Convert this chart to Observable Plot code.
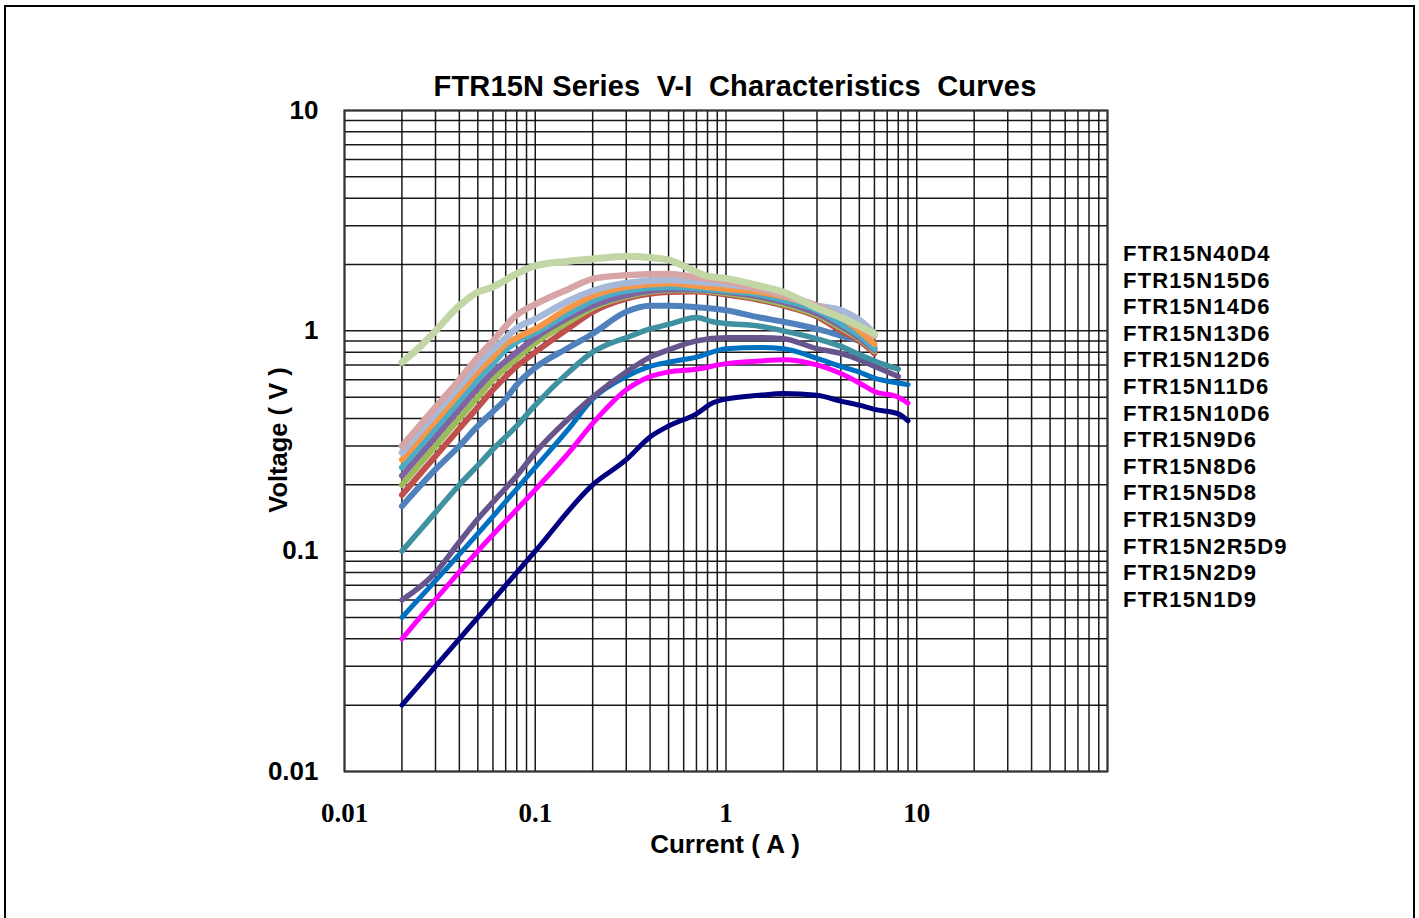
<!DOCTYPE html>
<html>
<head>
<meta charset="utf-8">
<script src="https://cdn.jsdelivr.net/npm/d3@7"></script>
<script src="https://cdn.jsdelivr.net/npm/@observablehq/plot@0.6"></script>
<style>
  html, body { margin: 0; padding: 0; background: #fff; overflow: hidden; }
  #wrap { position: relative; width: 1419px; height: 918px; overflow: hidden; }
  #border { position: absolute; left: 4px; top: 5px; width: 1411px; height: 940px; box-sizing: border-box; border: 2px solid #000; }
  .lbl { position: absolute; font-family: "Liberation Sans", Arial, sans-serif; font-weight: bold; color: #000; white-space: pre; line-height: 1; }
  #chart { position: absolute; left: 0; top: 0; }
</style>
</head>
<body>
<div id="wrap">
  <div id="border"></div>
  <div id="chart"></div>
  <div id="title" class="lbl" style="font-size:29px; letter-spacing:0.15px; left:0; width:1470px; text-align:center; top:72px;">FTR15N Series  V-I  Characteristics  Curves</div>
  <div id="xtitle" class="lbl" style="font-size:26px; left:0; width:1450px; text-align:center; top:831px;">Current ( A )</div>
  <div id="ytitle" class="lbl" style="font-size:25.5px; left:279px; top:440px; transform: translate(-50%,-50%) rotate(-90deg);">Voltage ( V )</div>
  <div id="legend"></div>
</div>
<script>
// ---- data ----
const seriesNames = ["FTR15N40D4","FTR15N15D6","FTR15N14D6","FTR15N13D6","FTR15N12D6","FTR15N11D6","FTR15N10D6","FTR15N9D6","FTR15N8D6","FTR15N5D8","FTR15N3D9","FTR15N2R5D9","FTR15N2D9","FTR15N1D9"];
const seriesColors = ["#c3d6a5","#d7a5a5","#a7b9d8","#f79646","#4bacc6","#8064a2","#9bbb59","#c0504d","#4f81bd","#3f91a1","#66558c","#0070c0","#ff00ff","#000080"];
const seriesWidths = [7,6.5,6.5,6,6,6,6,6,6,5.5,5.5,5,5,5];

const s40D4 = [[0.02,0.72],[0.025,0.85],[0.03,1.0],[0.04,1.3],[0.05,1.5],[0.06,1.58],[0.07,1.7],[0.08,1.82],[0.1,1.97],[0.15,2.07],[0.2,2.12],[0.3,2.18],[0.4,2.15],[0.5,2.1],[0.6,1.97],[0.7,1.85],[0.8,1.77],[1,1.73],[1.5,1.6],[2,1.5],[3,1.27],[4,1.15],[5,1.05],[6,0.97]];
const s15D6 = [[0.02,0.3],[0.03,0.45],[0.04,0.6],[0.05,0.76],[0.06,0.9],[0.08,1.18],[0.1,1.32],[0.15,1.55],[0.2,1.72],[0.3,1.79],[0.5,1.81],[0.7,1.75],[1,1.68],[1.5,1.55],[2,1.45],[3,1.3],[4,1.15],[5,1.05],[6,0.95]];
const s14D6 = [[0.02,0.28],[0.03,0.42],[0.04,0.56],[0.05,0.7],[0.06,0.82],[0.07,0.93],[0.08,1.03],[0.1,1.13],[0.15,1.37],[0.2,1.52],[0.3,1.65],[0.5,1.7],[0.7,1.67],[1,1.63],[1.5,1.55],[2,1.45],[3,1.3],[4,1.24],[5,1.12],[6,0.97]];
const s13D6 = [[0.02,0.26],[0.03,0.39],[0.04,0.52],[0.05,0.65],[0.06,0.76],[0.07,0.87],[0.08,0.93],[0.1,1.02],[0.15,1.27],[0.2,1.44],[0.3,1.58],[0.5,1.64],[0.7,1.6],[1,1.55],[1.5,1.5],[2,1.43],[3,1.28],[4,1.15],[5,1.0],[6,0.87]];
const s12D6 = [[0.02,0.24],[0.03,0.36],[0.04,0.48],[0.05,0.6],[0.06,0.71],[0.07,0.82],[0.08,0.89],[0.1,0.98],[0.15,1.2],[0.2,1.37],[0.3,1.52],[0.5,1.58],[0.7,1.56],[1,1.52],[1.5,1.46],[2,1.38],[3,1.24],[4,1.08],[5,0.95],[6,0.83]];
const s11D6 = [[0.02,0.22],[0.03,0.33],[0.04,0.44],[0.05,0.55],[0.06,0.65],[0.07,0.73],[0.08,0.8],[0.1,0.93],[0.15,1.15],[0.2,1.3],[0.3,1.45],[0.5,1.54],[0.7,1.54],[1,1.5],[1.5,1.43],[2,1.35],[3,1.2],[4,1.05],[5,0.93],[6,0.82]];
const s10D6 = [[0.02,0.2],[0.03,0.3],[0.04,0.4],[0.05,0.5],[0.06,0.6],[0.07,0.68],[0.08,0.75],[0.1,0.88],[0.15,1.1],[0.2,1.27],[0.3,1.43],[0.5,1.53],[0.7,1.53],[1,1.48],[1.5,1.4],[2,1.32],[3,1.18],[4,1.03],[5,0.92],[6,0.81]];
const s9D6 = [[0.02,0.18],[0.03,0.27],[0.04,0.36],[0.05,0.45],[0.06,0.54],[0.07,0.62],[0.08,0.69],[0.1,0.8],[0.15,1.03],[0.2,1.22],[0.3,1.4],[0.5,1.5],[0.7,1.51],[1,1.46],[1.5,1.38],[2,1.3],[3,1.16],[4,1.0],[5,0.9],[6,0.79]];
const s8D6 = [[0.02,0.16],[0.03,0.235],[0.04,0.3],[0.05,0.37],[0.06,0.43],[0.07,0.49],[0.08,0.57],[0.1,0.68],[0.15,0.84],[0.2,0.97],[0.3,1.22],[0.4,1.3],[0.5,1.3],[0.7,1.28],[1,1.24],[1.5,1.15],[2,1.1],[3,1.02],[4,0.95],[5,0.9],[6,0.84]];
const s5D8 = [[0.02,0.1],[0.03,0.15],[0.04,0.2],[0.05,0.245],[0.06,0.29],[0.08,0.37],[0.1,0.46],[0.15,0.65],[0.2,0.8],[0.25,0.88],[0.3,0.93],[0.4,1.02],[0.5,1.07],[0.7,1.15],[0.85,1.1],[1,1.08],[1.5,1.05],[2,1.0],[3,0.92],[4,0.85],[5,0.78],[6,0.73],[8,0.67]];
const s3D9 = [[0.02,0.06],[0.03,0.08],[0.04,0.11],[0.05,0.14],[0.065,0.18],[0.08,0.22],[0.1,0.28],[0.15,0.4],[0.2,0.5],[0.3,0.65],[0.4,0.76],[0.5,0.82],[0.7,0.9],[1,0.93],[1.5,0.93],[2,0.92],[3,0.83],[4,0.79],[5,0.74],[6,0.69],[8,0.62]];
const s2R5D9 = [[0.02,0.05],[0.05,0.12],[0.1,0.24],[0.15,0.36],[0.2,0.49],[0.3,0.62],[0.4,0.69],[0.5,0.72],[0.7,0.76],[1,0.83],[1.5,0.84],[2,0.83],[3,0.75],[4,0.69],[5,0.65],[6,0.61],[8,0.58],[9,0.57]];
const s2D9 = [[0.02,0.04],[0.05,0.1],[0.1,0.19],[0.15,0.28],[0.2,0.38],[0.3,0.54],[0.4,0.62],[0.5,0.65],[0.7,0.67],[1,0.71],[1.5,0.73],[2,0.74],[3,0.7],[4,0.64],[5,0.58],[6,0.53],[8,0.5],[9,0.47]];
const s1D9 = [[0.02,0.02],[0.04,0.04],[0.1,0.1],[0.2,0.2],[0.3,0.26],[0.4,0.33],[0.5,0.37],[0.7,0.42],[0.85,0.47],[1,0.49],[1.5,0.51],[2,0.52],[3,0.51],[4,0.48],[5,0.46],[6,0.44],[8,0.42],[9,0.39]];
const seriesValues = [s40D4,s15D6,s14D6,s13D6,s12D6,s11D6,s10D6,s9D6,s8D6,s5D8,s3D9,s2R5D9,s2D9,s1D9];

const xTickValues = [0.01,0.1,1,10];
const xTickLabels = ["0.01","0.1","1","10"];
const yTickValues = [0.01,0.1,1,10];
const yTickLabels = ["0.01","0.1","1","10"];
const decades = [0.01,0.1,1,10];
const mantissas = [1,2,3,4,5,6,7,8,9];

// ---- build ----
const gridX = decades.flatMap(d => mantissas.map(m => +(m*d).toPrecision(3))).concat([100]);
const gridY = [0.01,0.1,1].flatMap(d => mantissas.map(m => +(m*d).toPrecision(3))).concat([10]);

const lineMarks = [];
for (let i = seriesNames.length - 1; i >= 0; i--) {
  const data = seriesValues[i].map(([x,y]) => ({name: seriesNames[i], x, y}));
  lineMarks.push(Plot.line(data, {x: "x", y: "y", stroke: seriesColors[i], strokeWidth: seriesWidths[i], curve: "monotone-x", strokeLinecap: "round", strokeLinejoin: "round"}));
}

const chart = Plot.plot({
  width: 1419,
  height: 918,
  marginLeft: 344,
  marginRight: 312,
  marginTop: 110,
  marginBottom: 147,
  style: {background: "transparent", overflow: "visible"},
  x: {type: "log", domain: [0.01, 100]},
  y: {type: "log", domain: [0.01, 10]},
  marks: [
    Plot.gridX(gridX, {stroke: "#000", strokeOpacity: 0.9, strokeWidth: 1.5}),
    Plot.gridY(gridY, {stroke: "#000", strokeOpacity: 0.9, strokeWidth: 1.5}),
    Plot.frame({stroke: "#333", strokeWidth: 2}),
    Plot.axisX(xTickValues, {tickSize: 0, tickPadding: 31, fontSize: 27, fontWeight: "bold", fontFamily: "Liberation Serif, Times New Roman, serif", fill: "#000", tickFormat: (d) => xTickLabels[xTickValues.indexOf(d)], label: null}),
    Plot.axisY(yTickValues, {tickSize: 0, tickPadding: 26, fontSize: 26, fontWeight: "bold", fontFamily: "Liberation Sans, Arial, sans-serif", fill: "#000", tickFormat: (d) => yTickLabels[yTickValues.indexOf(d)], label: null}),
    ...lineMarks
  ]
});
document.getElementById("chart").appendChild(chart);

const legend = document.getElementById("legend");
seriesNames.forEach((n, i) => {
  const el = document.createElement("div");
  el.className = "lbl";
  el.style.fontSize = "22px";
  el.style.letterSpacing = "1.2px";
  el.style.left = "1123px";
  el.style.top = (254 + i * 26.6 - 11) + "px";
  el.textContent = n;
  legend.appendChild(el);
});
</script>
</body>
</html>
